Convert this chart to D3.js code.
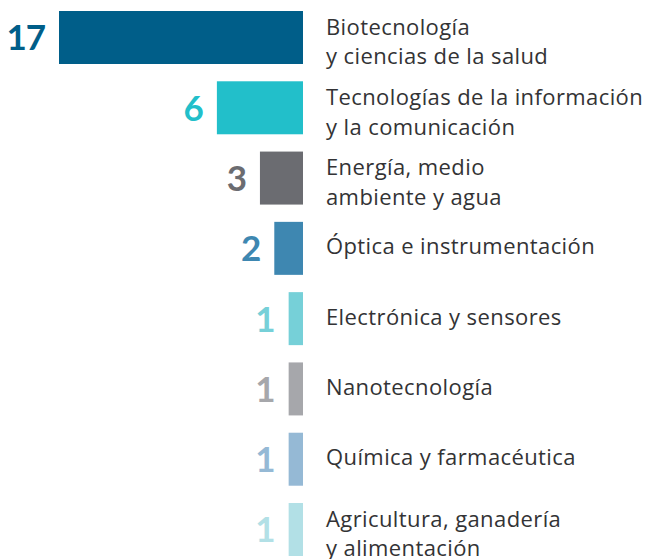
<!DOCTYPE html>
<meta charset="utf-8">
<style type="text/css">
  body { margin: 0; background: #fff; }
  .num { font-family: Lato, "Open Sans", sans-serif; font-weight: 700; font-size: 35px; letter-spacing: -1px; }
  .lbl { font-family: "Open Sans", Lato, sans-serif; font-weight: 400; font-size: 22px; letter-spacing: 0.4px; fill: #333335; }
</style>
<body></body>
<script src="https://cdn.jsdelivr.net/npm/d3@7"></script>
<script>

var categories = [
  "Biotecnología\ny ciencias de la salud",
  "Tecnologías de la información\ny la comunicación",
  "Energía, medio\nambiente y agua",
  "Óptica e instrumentación",
  "Electrónica y sensores",
  "Nanotecnología",
  "Química y farmacéutica",
  "Agricultura, ganadería\ny alimentación"
];
var values = [17, 6, 3, 2, 1, 1, 1, 1];
var colors = ["#005e89", "#22bfca", "#6b6c71", "#3e87b1", "#76d0d8", "#a6a7ab", "#95b9d5", "#b2e0e6"];

var W = 646, H = 559;
var baseX = 303;

var svg = d3.select("body").append("svg")
    .attr("width", W)
    .attr("height", H);

var xscale = d3.scaleLinear()
    .domain([0, 17])
    .range([0, 244]);

var yscale = d3.scaleBand()
    .domain(categories)
    .range([11, 556])
    .paddingInner(0.246)
    .paddingOuter(0);

var rows = svg.selectAll("g.row")
    .data(categories)
    .enter()
    .append("g")
    .attr("class", "row")
    .attr("transform", function(d) { return "translate(0," + yscale(d) + ")"; });

rows.append("rect")
    .attr("x", function(d, i) { return baseX - xscale(values[i]); })
    .attr("y", 0)
    .attr("width", function(d, i) { return xscale(values[i]); })
    .attr("height", yscale.bandwidth())
    .attr("fill", function(d, i) { return colors[i]; });

var mid = yscale.bandwidth() / 2;

rows.append("text")
    .attr("class", "num")
    .attr("text-anchor", "end")
    .attr("x", function(d, i) { return baseX - xscale(values[i]) - 14; })
    .attr("y", mid + 13)
    .attr("fill", function(d, i) { return colors[i]; })
    .text(function(d, i) { return values[i]; });

rows.append("text")
    .attr("class", "lbl")
    .attr("x", 326)
    .each(function(d) {
        var lines = d.split("\n");
        var t = d3.select(this);
        var y0 = lines.length > 1 ? mid - 3 : mid + 6;
        lines.forEach(function(line, j) {
            t.append("tspan")
                .attr("x", 326)
                .attr("y", y0 + j * 30)
                .text(line);
        });
    });

</script>
